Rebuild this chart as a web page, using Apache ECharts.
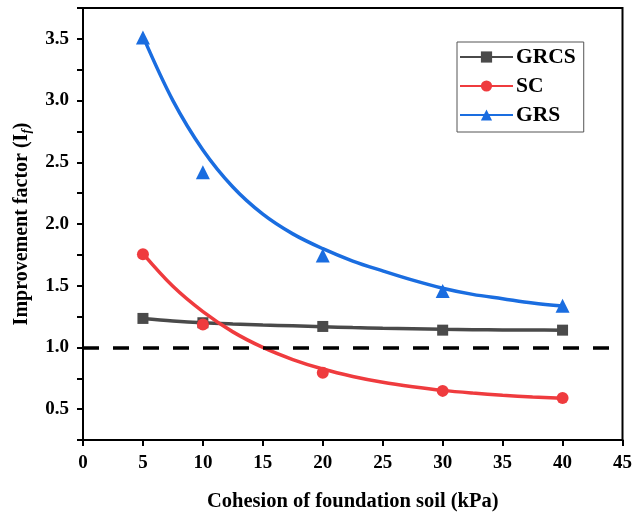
<!DOCTYPE html>
<html>
<head>
<meta charset="utf-8">
<script src="https://cdn.jsdelivr.net/npm/echarts@6/dist/echarts.min.js"></script>
<style>html,body{margin:0;padding:0;background:#fff;overflow:hidden;}#c{width:635px;height:517px;}</style>
</head>
<body>
<div id="c"></div>
<script>
// Measured points
const xPoints = [5, 10, 20, 30, 40];
const grcsPoints = [1.235, 1.20, 1.17, 1.14, 1.14];
const scPoints = [1.755, 1.185, 0.795, 0.648, 0.59];
const grsPoints = [3.51, 2.42, 1.745, 1.458, 1.337];

// Fitted curves
const xFit = [5, 7.5, 10, 12.5, 15, 17.5, 20, 22.5, 25, 27.5, 30, 32.5, 35, 37.5, 40];
const grcsFit = [1.235, 1.215, 1.20, 1.19, 1.182, 1.175, 1.168, 1.161, 1.155, 1.151, 1.147, 1.144, 1.142, 1.141, 1.14];
const scFit = [1.76, 1.495, 1.29, 1.126, 1.0, 0.902, 0.825, 0.765, 0.718, 0.682, 0.652, 0.63, 0.612, 0.598, 0.588];
const grsFit = [3.52, 3.0, 2.60, 2.30, 2.08, 1.92, 1.80, 1.70, 1.62, 1.545, 1.48, 1.43, 1.395, 1.36, 1.335];

const yTickLabels = ['0.5', '1.0', '1.5', '2.0', '2.5', '3.0', '3.5'];
const xTickLabels = ['0', '5', '10', '15', '20', '25', '30', '35', '40', '45'];

const colors = { GRCS: '#4a4a4a', SC: '#ef3b3e', GRS: '#1a6de0' };
const font = '"Liberation Serif", "Times New Roman", serif';

function pairs(xs, ys) { return xs.map((x, i) => [x, ys[i]]); }

const chart = echarts.init(document.getElementById('c'));
const fitSeries = (name, ys, symbol, size) => ({
  name, type: 'line', data: pairs(xFit, ys), smooth: 0.35,
  symbol, symbolSize: size, showSymbol: false,
  lineStyle: { color: colors[name], width: 3.5 },
  itemStyle: { color: colors[name], opacity: 1 }, z: 2
});
const ptSeries = (name, ys, symbol, size) => ({
  name, type: 'scatter', data: pairs(xPoints, ys), symbol, symbolSize: size,
  itemStyle: { color: colors[name], opacity: 1 }, z: 3
});

chart.setOption({
  animation: false,
  grid: { left: 83, right: 11, top: 8, bottom: 73, show: true, borderColor: '#000', borderWidth: 2, backgroundColor: 'transparent' },
  legend: {
    left: 457, top: 42, orient: 'vertical', itemGap: 7,
    itemWidth: 53, itemHeight: 14,
    borderColor: '#555', borderWidth: 1, padding: [4, 8, 6, 2],
    textStyle: { fontFamily: font, fontWeight: 'bold', fontSize: 21.5, color: '#000', padding: [0, 0, 0, -2] },
    data: ['GRCS', 'SC', 'GRS']
  },
  xAxis: {
    type: 'value', min: 0, max: 45, interval: 5,
    name: 'Cohesion of foundation soil (kPa)', nameLocation: 'middle', nameGap: 51,
    nameTextStyle: { fontFamily: font, fontWeight: 'bold', fontSize: 20.5, color: '#000' },
    axisLine: { lineStyle: { color: '#000', width: 2 } },
    axisTick: { show: true, length: 6, lineStyle: { color: '#000', width: 2 } },
    axisLabel: { fontFamily: font, fontWeight: 'bold', fontSize: 19, color: '#000', margin: 14,
      formatter: v => xTickLabels[Math.round(v / 5)] || '' },
    splitLine: { show: false }
  },
  yAxis: {
    type: 'value', min: 0.25, max: 3.75, interval: 0.25,
    name: 'Improvement factor (I{sub|f})', nameLocation: 'middle', nameGap: 50,
    nameTextStyle: { fontFamily: font, fontWeight: 'bold', fontSize: 20, color: '#000',
      rich: { sub: { fontFamily: font, fontWeight: 'bold', fontStyle: 'italic', fontSize: 13, verticalAlign: 'bottom', padding: [9, 0, 0, 0] } } },
    axisLine: { lineStyle: { color: '#000', width: 2 } },
    axisTick: { show: true, length: 6, lineStyle: { color: '#000', width: 2 } },
    axisLabel: { fontFamily: font, fontWeight: 'bold', fontSize: 19, color: '#000', margin: 14,
      formatter: v => { const k = Math.round(v * 2); return Math.abs(v * 2 - k) < 1e-6 ? (yTickLabels[k - 1] || '') : ''; } },
    splitLine: { show: false }
  },
  series: [
    Object.assign(fitSeries('GRCS', grcsFit, 'rect', 11), {
      markLine: { silent: true, symbol: 'none', label: { show: false },
        lineStyle: { color: '#000', width: 3.5, type: [16, 14] },
        data: [[{ coord: [0, 1.0] }, { coord: [45, 1.0] }]] }
    }),
    fitSeries('SC', scFit, 'circle', 12),
    fitSeries('GRS', grsFit, 'triangle', 14),
    ptSeries('GRCS', grcsPoints, 'rect', 11),
    ptSeries('SC', scPoints, 'circle', 12),
    ptSeries('GRS', grsPoints, 'triangle', 14)
  ]
});
</script>
</body>
</html>
